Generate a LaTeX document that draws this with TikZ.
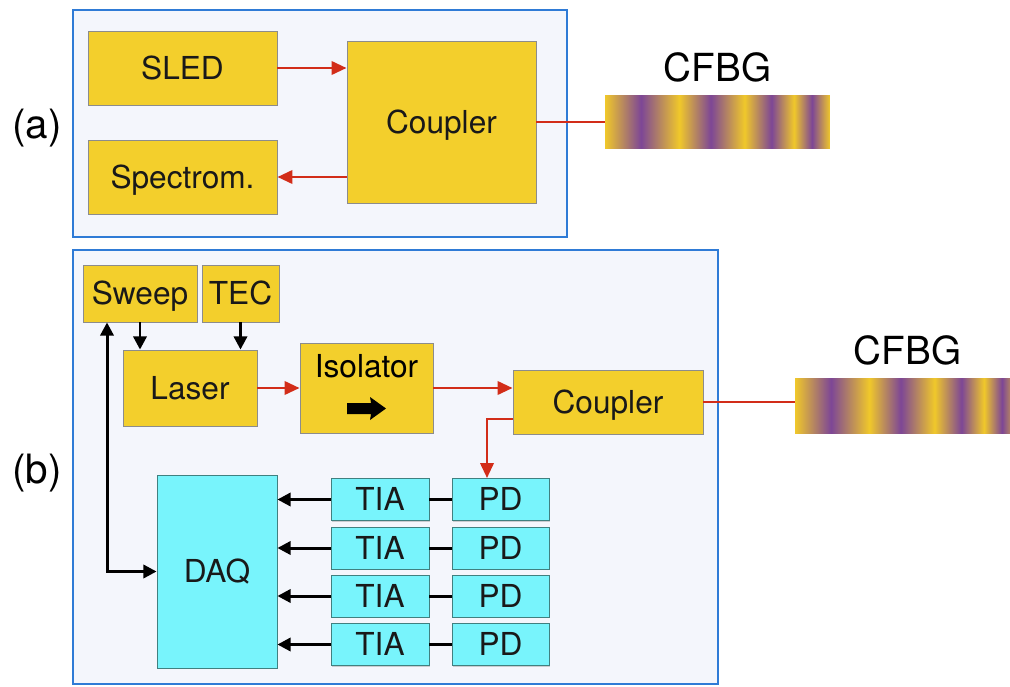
\documentclass[tikz,border=0pt]{standalone}
\usepackage{fontspec}
\setmainfont{TeX Gyre Heros}
\usetikzlibrary{arrows.meta,shadows}
\definecolor{boxyellow}{HTML}{F3CF2C}
\definecolor{boxcyan}{HTML}{78F4FC}
\definecolor{linered}{HTML}{D22D19}
\definecolor{frameblue}{HTML}{2F7BD6}
\definecolor{framefill}{HTML}{F4F6FC}
\definecolor{gratyellow}{HTML}{F0C82A}
\definecolor{gratpurple}{HTML}{7D4696}
\pgfdeclarehorizontalshading{chirp}{100bp}{color(0bp)=(gratyellow); color(25bp)=(gratyellow); color(33bp)=(gratpurple); color(41.5bp)=(gratyellow); color(48.5bp)=(gratpurple); color(56bp)=(gratyellow); color(62bp)=(gratpurple); color(67bp)=(gratyellow); color(71bp)=(gratpurple); color(75bp)=(gratyellow); color(100bp)=(gratyellow)}
\tikzset{
  ybox/.style={draw=black!45, line width=0.5pt, fill=boxyellow, text=black!90,
    drop shadow={shadow xshift=0.6pt, shadow yshift=-0.8pt, opacity=0.35},
    font=\fontsize{18}{21}\selectfont, text height=13pt, text depth=0pt},
  cbox/.style={ybox, fill=boxcyan, draw=teal!50!gray},
  rarrow/.style={draw=linered, line width=1.6pt, -{Triangle[length=8.5pt,width=7.5pt]}},
  rline/.style={draw=linered, line width=1.6pt},
  karrow/.style={line width=1.7pt, -{Triangle[length=7.5pt,width=7.5pt]}},
  kline/.style={line width=1.7pt},
  grating/.style={shade, shading=chirp, inner sep=0pt, minimum width=4.5cm,
    label={[font=\fontsize{22}{26}\selectfont, inner sep=0pt, label distance=7pt]above:CFBG}},
  panel/.style={draw=frameblue, line width=1.1pt, fill=framefill},
  tag/.style={font=\fontsize{23}{27}\selectfont}
}
\begin{document}
\begin{tikzpicture}[x=0.02cm, y=-0.02cm]
\useasboundingbox (0,0) rectangle (1010,686);
\draw[panel] (73,10) rectangle (567,237);
\draw[panel] (73,250) rectangle (718,684);
\node[tag] (taga) at (37,128) {(a)};
\node[tag] (tagb) at (37,473) {(b)};

\node[ybox, minimum width=3.78cm, minimum height=1.48cm] (sled) at (182.5,68) {SLED};
\node[ybox, minimum width=3.78cm, minimum height=1.48cm] (spec) at (182.5,177) {Spectrom.};
\node[ybox, minimum width=3.78cm, minimum height=3.24cm] (cpla) at (441.5,122) {Coupler};
\node[grating, minimum height=1.08cm] (cfbga) at (717.5,122) {};
\draw[rarrow] (sled.east) -- (sled.east -| cpla.west);
\draw[rarrow] (spec.east -| cpla.west) -- (spec.east);
\draw[rline] (cpla.east) -- (cfbga.west);

\node[ybox, minimum width=2.28cm, minimum height=1.14cm] (sweep) at (140,293.5) {Sweep};
\node[ybox, minimum width=1.54cm, minimum height=1.14cm] (tec) at (240.5,293.5) {TEC};
\node[ybox, minimum width=2.68cm, minimum height=1.52cm] (laser) at (190,388) {Laser};
\node[ybox, minimum width=2.66cm, minimum height=1.8cm,
  label={[anchor=center, yshift=-0.48cm, font=\fontsize{18}{21}\selectfont]north:Isolator}] (iso) at (366.5,388) {};
\fill (347,403) -- (371,403) -- (370,397) -- (386,408.5) -- (370,420) -- (371,414) -- (347,414) -- cycle;
\node[ybox, minimum width=3.8cm, minimum height=1.28cm] (cplb) at (608,402) {Coupler};
\node[grating, minimum height=1.1cm] (cfbgb) at (907.5,405.5) {};
\node[cbox, minimum width=2.4cm, minimum height=3.86cm] (daq) at (217,571.5) {DAQ};

\draw[karrow] (sweep.south) -- (sweep.south |- laser.north);
\draw[karrow] (tec.south) -- (tec.south |- laser.north);
\draw[karrow, {Triangle[length=7.5pt,width=7.5pt]}-{Triangle[length=7.5pt,width=7.5pt]}] (daq.west) -| ([xshift=-0.66cm]sweep.south);
\draw[rarrow] (laser.east) -- (laser.east -| iso.west);
\draw[rarrow] (iso.east) -- (iso.east -| cplb.west);
\draw[rline] (cplb.east) -- (cplb.east -| cfbgb.west);

\foreach \y [count=\i] in {499.5,548,596,644.5}{
  \node[cbox, minimum width=1.96cm, minimum height=0.84cm] (tia\i) at (380,\y) {TIA};
  \node[cbox, minimum width=1.94cm, minimum height=0.84cm] (pd\i) at (500.5,\y) {PD};
  \draw[kline] (pd\i.west) -- (tia\i.east);
  \draw[karrow] (tia\i.west) -- (tia\i.west -| daq.east);
}
\draw[rarrow] ([yshift=-0.34cm]cplb.west) -| ([xshift=-0.27cm]pd1.north);
\end{tikzpicture}
\end{document}
